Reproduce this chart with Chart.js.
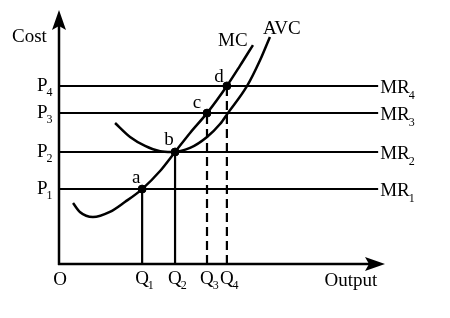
<!DOCTYPE html>
<html>
<head>
<meta charset="utf-8">
<script src="https://cdn.jsdelivr.net/npm/chart.js@4.4.1/dist/chart.umd.min.js"></script>
<style>
html,body{margin:0;padding:0;background:#fff;}
canvas{display:block;}
</style>
</head>
<body>
<canvas id="c" width="450" height="318"></canvas>
<script>
// ---- data (arbitrary units) ----
const priceLabels = ['1', '2', '3', '4'];          // P1..P4 / MR1..MR4 subscripts
const priceValues = [2.95, 4.41, 5.94, 7.01];
const quantityLabels = ['1', '2', '3', '4'];       // Q1..Q4 subscripts
const quantityValues = [2.55, 3.56, 4.54, 5.15];
const pointLabels = ['a', 'b', 'c', 'd'];
const mrEndX = 9.79;
const mcX = [0.43, 0.64, 1.04, 1.56, 2.02, 2.55, 3.10, 3.56, 4.02, 4.54, 5.15, 5.55, 5.95];
const mcY = [2.40, 2.05, 1.85, 2.05, 2.44, 2.95, 3.66, 4.41, 5.16, 5.94, 7.01, 7.80, 8.62];
const avcX = [1.72, 2.18, 2.64, 3.10, 3.45, 4.02, 4.54, 4.94, 5.18, 5.77, 6.17, 6.47];
const avcY = [5.55, 5.00, 4.65, 4.44, 4.41, 4.57, 5.00, 5.51, 5.94, 7.01, 8.03, 8.94];
const dashedQ = [false, false, true, true];

const toPts = (xs, ys) => xs.map((x, i) => ({x: x, y: ys[i]}));

const datasets = [];
datasets.push({label: 'MC', data: toPts(mcX, mcY), borderColor: '#000', borderWidth: 2.5,
  pointRadius: 0, cubicInterpolationMode: 'monotone', fill: false});
datasets.push({label: 'AVC', data: toPts(avcX, avcY), borderColor: '#000', borderWidth: 2.5,
  pointRadius: 0, cubicInterpolationMode: 'monotone', fill: false});
priceValues.forEach((p, i) => {
  datasets.push({label: 'MR' + priceLabels[i], data: [{x: 0, y: p}, {x: mrEndX, y: p}],
    borderColor: '#000', borderWidth: 2, pointRadius: 0, tension: 0});
});
quantityValues.forEach((q, i) => {
  datasets.push({label: 'Q' + quantityLabels[i], data: [{x: q, y: 0}, {x: q, y: priceValues[i]}],
    borderColor: '#000', borderWidth: 2.2, borderDash: dashedQ[i] ? [9, 5] : [],
    pointRadius: 0, tension: 0});
});
datasets.push({label: 'points', type: 'scatter',
  data: quantityValues.map((q, i) => ({x: q, y: priceValues[i]})),
  backgroundColor: '#000', borderColor: '#000', pointRadius: 4, showLine: false});

const FONT = '"Liberation Serif", "Times New Roman", serif';

function subText(ctx, main, sub, x, y, align, size, subSize, subDy) {
  ctx.font = size + 'px ' + FONT;
  const w1 = ctx.measureText(main).width;
  ctx.font = subSize + 'px ' + FONT;
  const w2 = sub ? ctx.measureText(sub).width : 0;
  const total = w1 + w2;
  let x0 = x;
  if (align === 'center') x0 = x - total / 2;
  else if (align === 'right') x0 = x - total;
  ctx.textAlign = 'left';
  ctx.textBaseline = 'alphabetic';
  ctx.font = size + 'px ' + FONT;
  ctx.fillText(main, x0, y);
  if (sub) {
    ctx.font = subSize + 'px ' + FONT;
    ctx.fillText(sub, x0 + w1 - 1, y + subDy);
  }
}

const decor = {
  id: 'decor',
  beforeDatasetsDraw(chart) {
    const ctx = chart.ctx, a = chart.chartArea;
    const xs = chart.scales.x, ys = chart.scales.y;
    const ox = xs.getPixelForValue(0), oy = ys.getPixelForValue(0);
    ctx.save();
    ctx.strokeStyle = '#000';
    ctx.fillStyle = '#000';
    ctx.lineWidth = 2.5;
    // y axis
    ctx.beginPath();
    ctx.moveTo(ox, oy + 1); ctx.lineTo(ox, a.top + 14); ctx.stroke();
    ctx.beginPath();
    ctx.moveTo(ox, a.top); ctx.lineTo(ox + 7, a.top + 20); ctx.lineTo(ox, a.top + 16);
    ctx.lineTo(ox - 7, a.top + 20); ctx.closePath(); ctx.fill();
    // x axis
    ctx.beginPath();
    ctx.moveTo(ox - 1, oy); ctx.lineTo(a.right - 14, oy); ctx.stroke();
    ctx.beginPath();
    ctx.moveTo(a.right, oy); ctx.lineTo(a.right - 20, oy - 7); ctx.lineTo(a.right - 16, oy);
    ctx.lineTo(a.right - 20, oy + 7); ctx.closePath(); ctx.fill();
    ctx.restore();
  },
  afterDatasetsDraw(chart) {
    const ctx = chart.ctx, a = chart.chartArea;
    const xs = chart.scales.x, ys = chart.scales.y;
    const ox = xs.getPixelForValue(0), oy = ys.getPixelForValue(0);
    ctx.save();
    ctx.fillStyle = '#000';
    subText(ctx, 'Cost', '', 12, 42, 'left', 19, 12, 0);
    subText(ctx, 'O', '', ox + 1, oy + 21, 'center', 19, 12, 0);
    subText(ctx, 'Output', '', 351, oy + 22, 'center', 19, 12, 0);
    priceValues.forEach((p, i) => {
      const py = ys.getPixelForValue(p);
      subText(ctx, 'P', priceLabels[i], 37, py + 5, 'left', 19, 12, 5);
      subText(ctx, 'MR', priceLabels[i], xs.getPixelForValue(mrEndX) + 2, py + 7, 'left', 19, 12, 6);
    });
    quantityValues.forEach((q, i) => {
      const px = xs.getPixelForValue(q);
      subText(ctx, 'Q', quantityLabels[i], px - 7, oy + 20, 'left', 19, 12, 5);
    });
    const off = [[-6, -6], [-6, -7], [-10, -5], [-8, -4]];
    quantityValues.forEach((q, i) => {
      const px = xs.getPixelForValue(q), py = ys.getPixelForValue(priceValues[i]);
      subText(ctx, pointLabels[i], '', px + off[i][0], py + off[i][1], 'center', 19, 12, 0);
    });
    subText(ctx, 'MC', '', 218, 46, 'left', 19, 12, 0);
    subText(ctx, 'AVC', '', 263, 34, 'left', 19, 12, 0);
    ctx.restore();
  }
};

new Chart(document.getElementById('c'), {
  type: 'line',
  data: {datasets: datasets},
  options: {
    responsive: false,
    animation: false,
    layout: {padding: {left: 59, top: 10, right: 65, bottom: 54}},
    plugins: {legend: {display: false}, tooltip: {enabled: false}},
    scales: {
      x: {type: 'linear', min: 0, max: 10, display: false},
      y: {type: 'linear', min: 0, max: 10, display: false}
    },
    elements: {line: {borderCapStyle: 'butt'}}
  },
  plugins: [decor]
});
</script>
</body>
</html>
